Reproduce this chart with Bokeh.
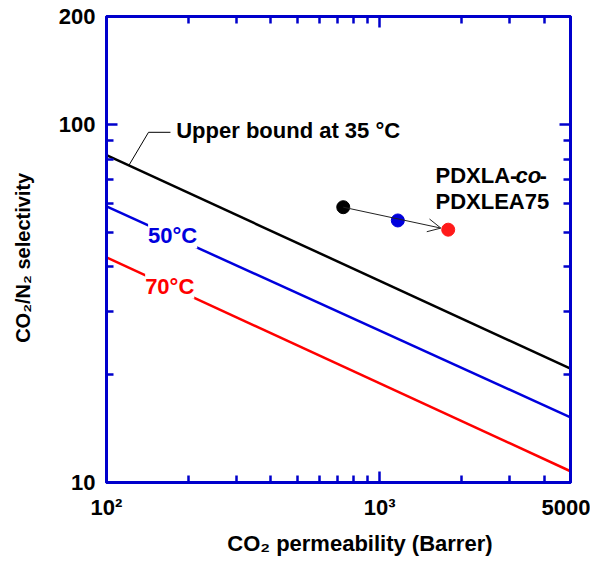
import numpy as np
from bokeh.plotting import figure
from bokeh.models import (FixedTicker, LogAxis, Label, Arrow, OpenHead, ColumnDataSource)
from bokeh.embed import file_html
from bokeh.resources import INLINE

# ---- data ----
perm_ends = [100, 5000]                 # CO2 permeability (Barrer) at line ends
ub_35 = [82.0, 20.8]                    # upper bound at 35 C
ub_50 = [59.0, 15.2]                    # upper bound at 50 C
ub_70 = [42.5, 10.75]                   # upper bound at 70 C

pt_perm = [736, 1166, 1783]             # PDXLA-co-PDXLEA75 at 35/50/70 C
pt_sel = [58.7, 53.9, 50.8]
pt_colors = ["#000000", "#0000dd", "#ff1a1a"]

x_major = [100, 1000, 5000]
x_minor = [200, 300, 400, 500, 600, 700, 800, 900, 2000, 3000, 4000]
x_labels = {100: "10²", 1000: "10³", 5000: "5000"}
y_major = [10, 100, 200]
y_minor = [20, 30, 40, 50, 60, 70, 80, 90]
y_labels = {10: "10", 100: "100", 200: "200"}

# leader line of the "Upper bound" label
lead_x = [121, 142.5, 171.5]
lead_y = [77, 95, 95]

FONT = "Liberation Sans"
AX = "#0000cc"
FS = "22px"

p = figure(frame_width=464, frame_height=466,
           x_axis_type="log", y_axis_type="log",
           x_range=(100, 5000), y_range=(10, 200),
           output_backend="svg", toolbar_location=None,
           min_border_left=106, min_border_right=20,
           min_border_top=16, min_border_bottom=71)
p.grid.visible = False
p.outline_line_color = AX
p.outline_line_width = 3
p.background_fill_color = "white"
p.border_fill_color = "white"

def style(ax, labels=True):
    ax.axis_line_color = AX
    ax.axis_line_width = 3
    ax.major_tick_line_color = AX
    ax.minor_tick_line_color = AX
    ax.major_tick_line_width = 2.5
    ax.minor_tick_line_width = 2.5
    ax.major_tick_in = 11
    ax.major_tick_out = 0
    ax.minor_tick_in = 7
    ax.minor_tick_out = 0
    ax.major_label_text_font = FONT
    ax.major_label_text_font_style = "bold"
    ax.major_label_text_font_size = FS
    ax.major_label_text_color = "black"
    ax.axis_label_text_font = FONT
    ax.axis_label_text_font_style = "bold"
    ax.axis_label_text_font_size = FS
    ax.axis_label_text_color = "black"
    if not labels:
        ax.major_label_text_font_size = "1px"
        ax.major_label_text_alpha = 0
        ax.major_label_standoff = 0

p.xaxis.ticker = FixedTicker(ticks=x_major, minor_ticks=x_minor)
p.yaxis.ticker = FixedTicker(ticks=y_major, minor_ticks=y_minor)
p.xaxis.major_label_overrides = x_labels
p.yaxis.major_label_overrides = y_labels
style(p.xaxis[0]); style(p.yaxis[0])
p.xaxis.major_label_standoff = 12
p.yaxis.major_label_standoff = 11
p.xaxis.axis_label = "\u00a0" * 7 + "CO₂ permeability (Barrer)"
p.yaxis.axis_label = "CO₂/N₂ selectivity" + "\u00a0" * 3
p.yaxis.axis_label_text_font_size = "20px"
p.xaxis.axis_label_standoff = 8
p.yaxis.axis_label_standoff = 22

top = LogAxis(ticker=FixedTicker(ticks=x_major, minor_ticks=x_minor))
right = LogAxis(ticker=FixedTicker(ticks=y_major, minor_ticks=y_minor))
style(top, False); style(right, False)
p.add_layout(top, "above")
p.add_layout(right, "right")

# upper bound lines
p.line(perm_ends, ub_35, line_color="black", line_width=2.5)
p.line(perm_ends, ub_50, line_color="#0000dd", line_width=2.5)
p.line(perm_ends, ub_70, line_color="#ff0000", line_width=2.5)

# leader line
p.line(lead_x, lead_y, line_color="black", line_width=1)

def lab(x, y, text, color="black", style="bold", bg=None, xoff=0):
    l = Label(x=x, y=y, text=text, text_font=FONT, text_font_style=style,
              text_font_size=FS, text_color=color, text_baseline="middle",
              text_align="left", x_offset=xoff)
    if bg:
        l.background_fill_color = bg
    p.add_layout(l)
    return l

lab(180, 96, "Upper bound at 35 °C")
lab(142, 48.8, "50°C", color="#0000dd", bg="white")
lab(138.5, 35.3, "70°C", color="#ff0000", bg="white")

# arrow from 35 C point towards 70 C point
lx = np.log10(pt_perm); ly = np.log10(pt_sel)
f = 0.93
ex = float(10 ** (lx[0] + f * (lx[2] - lx[0])))
ey = float(10 ** (ly[0] + f * (ly[2] - ly[0])))
p.add_layout(Arrow(end=OpenHead(size=13, line_width=1, line_color="#222222"),
                   x_start=pt_perm[0], y_start=pt_sel[0], x_end=ex, y_end=ey,
                   line_width=1, line_color="#222222"))

src = ColumnDataSource(dict(x=pt_perm, y=pt_sel, c=pt_colors))
p.scatter("x", "y", source=src, size=13, fill_color="c", line_color="c")

# sample label
lab(1602, 71.8, "PDXLA-")
lab(1602, 71.8, "co", style="bold italic", xoff=80)
lab(1602, 71.8, "-", xoff=104)
lab(1602, 60.9, "PDXLEA75")

open("out.html", "w").write(file_html(p, INLINE))
